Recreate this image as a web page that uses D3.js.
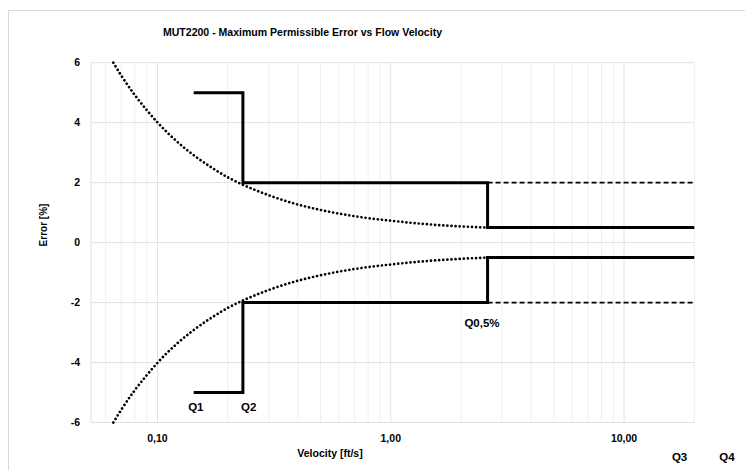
<!DOCTYPE html>
<html lang="en">
<meta charset="utf-8">
<script src="https://d3js.org/d3.v7.min.js"></script>
<style>
  body { margin: 0; background: #fff; }
  text { font-family: "Liberation Sans", Arial, sans-serif; font-weight: bold; fill: #000; }
</style>
<svg id="base" width="745" height="470"></svg>

<script>
    // step limits (velocity ft/s, error %)
    var upperVel = [0.143, 0.2324, 0.2324, 2.6, 2.6, 20];
    var upperErr = [5, 5, 2, 2, 0.5, 0.5];
    var lowerVel = [0.143, 0.2324, 0.2324, 2.6, 2.6, 20];
    var lowerErr = [-5, -5, -2, -2, -0.5, -0.5];

    // dashed +-2% continuation
    var dashVel = [2.6, 20];
    var dashUpper = [2, 2];
    var dashLower = [-2, -2];

    // dotted accuracy curves
    var curveVel = [0.0647, 0.07, 0.08, 0.09, 0.10, 0.12, 0.14, 0.17, 0.2, 0.2324, 0.3, 0.4, 0.5, 0.7, 1.0, 1.4, 2.0, 2.6];
    var curveUpper = [6.0, 5.57, 4.92, 4.42, 4.01, 3.40, 2.97, 2.51, 2.18, 1.93, 1.58, 1.27, 1.09, 0.88, 0.73, 0.62, 0.54, 0.50];
    var curveLower = [-6.0, -5.57, -4.92, -4.42, -4.01, -3.40, -2.97, -2.51, -2.18, -1.93, -1.58, -1.27, -1.09, -0.88, -0.73, -0.62, -0.54, -0.50];

    // flow point labels
    var qLabels = ["Q1", "Q2", "Q0,5%", "Q3", "Q4"];
    var qVel = [0.146, 0.246, 2.46, 17.3, 27.6];
    var qErr = [-5.48, -5.48, -2.68, -7.14, -7.14];

    var xTicks = [0.1, 1, 10];
    var xTickLabels = ["0,10", "1,00", "10,00"];
    var yTicks = [-6, -4, -2, 0, 2, 4, 6];
    var minorTicks = [0.06, 0.07, 0.08, 0.09, 0.2, 0.3, 0.4, 0.5, 0.6, 0.7, 0.8, 0.9,
        2, 3, 4, 5, 6, 7, 8, 9, 20];

    var svg = d3.select("#base");

    // chart area border
    svg.append("rect")
        .attr("x", 8.5).attr("y", 10.5)
        .attr("width", 760).attr("height", 480)
        .attr("fill", "none")
        .attr("stroke", "#d9d9d9");

    var x = d3.scaleLog()
        .domain([0.0519, 20])
        .range([91, 694.3]);

    var y = d3.scaleLinear()
        .domain([-6, 6])
        .range([422.5, 62.7]);

    var grid = svg.append("g");

    grid.selectAll(".minor")
        .data(minorTicks)
        .enter().append("line")
        .attr("x1", function (d) { return x(d); })
        .attr("x2", function (d) { return x(d); })
        .attr("y1", y(6)).attr("y2", y(-6))
        .attr("stroke", "#efefef");

    grid.selectAll(".major")
        .data(xTicks)
        .enter().append("line")
        .attr("x1", function (d) { return x(d); })
        .attr("x2", function (d) { return x(d); })
        .attr("y1", y(6)).attr("y2", y(-6))
        .attr("stroke", "#e2e2e2");

    grid.selectAll(".hgrid")
        .data(yTicks)
        .enter().append("line")
        .attr("x1", x.range()[0]).attr("x2", x.range()[1])
        .attr("y1", function (d) { return y(d); })
        .attr("y2", function (d) { return y(d); })
        .attr("stroke", "#e2e2e2");

    grid.append("line")
        .attr("x1", x.range()[0]).attr("x2", x.range()[0])
        .attr("y1", y(6)).attr("y2", y(-6))
        .attr("stroke", "#e2e2e2");

    // axes labels
    svg.append("g")
        .selectAll("text")
        .data(yTicks)
        .enter().append("text")
        .attr("x", 80)
        .attr("y", function (d) { return y(d); })
        .attr("dy", "0.35em")
        .attr("text-anchor", "end")
        .style("font-size", "10.5px")
        .text(function (d) { return d; });

    svg.append("g")
        .selectAll("text")
        .data(xTicks)
        .enter().append("text")
        .attr("x", function (d) { return x(d); })
        .attr("y", 441.5)
        .attr("text-anchor", "middle")
        .style("font-size", "10.5px")
        .text(function (d, i) { return xTickLabels[i]; });

    svg.append("text")
        .attr("x", 330)
        .attr("y", 456.5)
        .attr("text-anchor", "middle")
        .style("font-size", "10.5px")
        .text("Velocity [ft/s]");

    svg.append("text")
        .attr("transform", "translate(46.5,225) rotate(-90)")
        .attr("text-anchor", "middle")
        .style("font-size", "10px")
        .text("Error [%]");

    svg.append("text")
        .attr("x", 163)
        .attr("y", 36)
        .attr("textLength", 279)
        .attr("lengthAdjust", "spacingAndGlyphs")
        .style("font-size", "10.5px")
        .text("MUT2200 - Maximum Permissible Error vs Flow Velocity");

    var line = d3.line()
        .x(function (d) { return x(d[0]); })
        .y(function (d) { return y(d[1]); });

    var smooth = d3.line()
        .x(function (d) { return x(d[0]); })
        .y(function (d) { return y(d[1]); })
        .curve(d3.curveMonotoneX);

    function pairs(a, b) { return a.map(function (v, i) { return [v, b[i]]; }); }

    [curveUpper, curveLower].forEach(function (e) {
        svg.append("path")
            .attr("d", smooth(pairs(curveVel, e)))
            .attr("fill", "none")
            .attr("stroke", "#000")
            .attr("stroke-width", 2.7)
            .attr("stroke-linecap", "round")
            .attr("stroke-dasharray", "0.01 4.1");
    });

    [dashUpper, dashLower].forEach(function (e) {
        svg.append("path")
            .attr("d", line(pairs(dashVel, e)))
            .attr("fill", "none")
            .attr("stroke", "#000")
            .attr("stroke-width", 1.7)
            .attr("stroke-dasharray", "5 3");
    });

    [[upperVel, upperErr], [lowerVel, lowerErr]].forEach(function (s) {
        svg.append("path")
            .attr("d", line(pairs(s[0], s[1])))
            .attr("fill", "none")
            .attr("stroke", "#000")
            .attr("stroke-width", 3);
    });

    svg.append("g")
        .selectAll("text")
        .data(qLabels)
        .enter().append("text")
        .attr("x", function (d, i) { return x(qVel[i]); })
        .attr("y", function (d, i) { return y(qErr[i]); })
        .attr("dy", "0.36em")
        .attr("text-anchor", "middle")
        .style("font-size", "11.5px")
        .text(function (d) { return d; });
</script>
</html>
